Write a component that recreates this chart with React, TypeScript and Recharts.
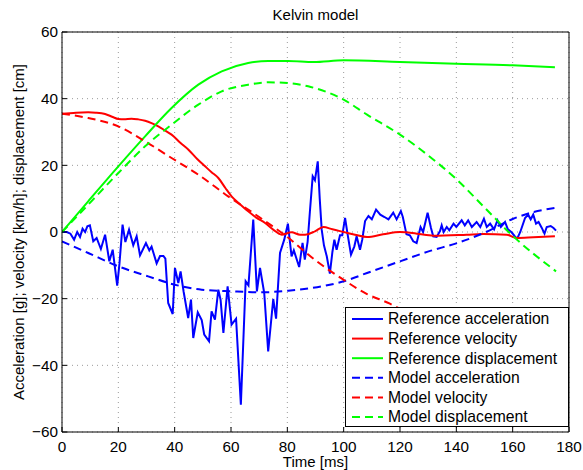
import { LineChart, Line, XAxis, YAxis, CartesianGrid, Legend } from 'recharts'

const FONT = '"Liberation Sans", Arial, Helvetica, sans-serif'

const xTicks = [0, 20, 40, 60, 80, 100, 120, 140, 160, 180]
const yTicks = [-60, -40, -20, 0, 20, 40, 60]

// [time ms, value] pairs
const refAcceleration: [number, number][] = [
  [0, 0], [1.7, 0], [3, -0.5], [4.3, -2.3], [5.4, 0], [6.4, -1.5], [7.3, 1], [8.2, 0], [9, 1.7], [9.9, 2],
  [11.1, -2.8], [12.3, -1.8], [13.8, -5.1], [15.3, -0.8], [16.8, -8.8], [18, -5.3], [19.6, -16.1], [20.4, -9.5],
  [21.5, 2.2], [22.5, -3], [23.8, 0.7], [25.3, -4], [26.5, -1.3], [27.7, -7], [29.8, -3.3], [31, -5.5], [31.8, -4.4],
  [33.6, -9.4], [34.8, -7.2], [36, -7.2], [36.7, -8], [37.7, -21.3], [39.3, -24.6], [40.1, -10.8], [41.3, -15.3],
  [42.1, -11.8], [43.2, -18], [44.8, -25.8], [45.8, -20.3], [46.6, -31.8], [48.2, -24.1], [49.6, -26.4], [50.5, -30.8],
  [52.2, -32.8], [53.1, -23.8], [54.3, -26.3], [55.5, -17.3], [56.3, -20.3], [57.3, -30.3], [58.8, -16.3], [60.2, -27.8],
  [61.8, -26], [63.5, -51.8], [65.2, -14.8], [66.2, -16], [67.9, 3.7], [69.2, -17.8], [70.3, -10.8], [71.8, -18.3],
  [73.2, -35.8], [75, -20.1], [76, -26], [77.4, -6.3], [78.9, -2.3], [80.2, 2.5], [81.5, -7.3], [82.3, -5.5],
  [84.2, -10.5], [85.4, -3.3], [86.2, -8.3], [87.2, -3], [88, 6], [89, 16.7], [89.8, 15.5], [90.8, 21.2], [91.5, 10],
  [92.2, 0.7], [93, -4], [94, -7.3], [95.1, -12.5], [96, -6], [96.7, -2.3], [97.5, -5.3], [98.7, -1], [99.5, -1],
  [100.5, 4.2], [101.4, -0.7], [102.6, -6.8], [103.8, -4.3], [104.6, -1.3], [105.8, -5.3], [106.6, -2.3], [107.6, 3.3],
  [108.8, 4.8], [110, 3.8], [111.5, 6.7], [113, 5.2], [114.5, 4.5], [115.9, 3.8], [117.6, 5.8], [118.8, 3.8],
  [120.3, 6.3], [121, 4.5], [122.3, -0.7], [123.5, -1], [124.7, -2.8], [125.9, -3.3], [127.3, 1.5], [128.2, 0],
  [129.8, 5.8], [131, 1.2], [131.8, -1.3], [133, -1.5], [134.2, 0.3], [134.8, 2], [135.5, 0], [136.6, 1.5],
  [137.5, 0.5], [139, 2.5], [140, 1.5], [141.9, 3.5], [143, 2], [144.2, 3.5], [145.5, 1.5], [147.2, 3], [148.5, 1.5],
  [149.8, 4], [150.8, 1.5], [152, 2.5], [153.4, 0.8], [154.6, 3.5], [155.8, 1.5], [157.3, 3], [158.3, 0.8],
  [159.6, -0.1], [160.8, -1.3], [161.6, -2], [162.7, 0], [164.4, 4.2], [165.5, 5.2], [166.4, 3.8], [167.3, 5.2],
  [168.3, 2.5], [169.2, 3], [170.3, 1.3], [171.3, -0.5], [172.1, 1.5], [173.5, 1.8], [174.5, 1.2], [175.4, 0.4],
]

const refVelocity: [number, number][] = [
  [0, 35.5], [5, 35.8], [9.3, 35.9], [12, 35.8], [15.3, 35.4], [18, 34.5], [20, 33.9], [22, 33.8], [24.7, 34],
  [27, 33.8], [29.5, 33.4], [32, 32.6], [34.2, 31.7], [36.5, 30.5], [38.9, 29.2], [42, 26.8], [44.9, 24.7], [48, 21.9],
  [50.8, 19.7], [53, 18], [55.5, 16.2], [58, 13.2], [60.2, 10.7], [63, 8.5], [66.1, 6.2], [69, 4.3], [72.1, 2.7],
  [75, 0.7], [78, -0.8], [81.5, -0.1], [84.5, -0.8], [86.3, -0.8], [89.8, 0.2], [92.8, 1.5], [96, 0.8], [100, 0],
  [104, -0.8], [108.3, -1.5], [114, -0.7], [120, 0], [126, -0.5], [131.9, -1.1], [143.7, -0.8], [149.6, -0.6],
  [157.9, -0.8], [161.4, -1.8], [167.3, -1.6], [175, -1.3],
]

const refDisplacement: [number, number][] = [
  [0, 0], [9.3, 9.2], [20, 19.7], [29.5, 28.7], [38.9, 37.2], [48.4, 44.2], [56.7, 48.2], [66.1, 50.7], [73.2, 51.3],
  [80.3, 51.3], [89.3, 51], [100, 51.5], [120, 51], [140, 50.5], [160, 50], [175, 49.4],
]

const modelAcceleration: [number, number][] = [
  [0, -2.8], [9.3, -6.3], [20, -10.3], [30.6, -13.3], [40, -15.8], [49.6, -17.3], [60.2, -17.8], [70.9, -18.1],
  [80.3, -17.6], [88.6, -16.8], [100, -14.8], [108.3, -12.3], [120, -8.8], [131, -5.6], [140, -3.4], [150, -0.2],
  [160, 3.9], [167, 5.9], [175, 7.2],
]

const modelVelocity: [number, number][] = [
  [0, 35.5], [9.3, 34.2], [20, 31.7], [29.5, 27.2], [38.9, 22.2], [48.4, 17.2], [59, 10.7], [70, 4.5], [80, -1.5],
  [90, -8.5], [99.9, -14.3], [108, -18.5], [116.4, -21.5], [120, -23], [130, -25], [140, -26], [150, -26.4],
  [160, -26], [175, -24.5],
]

const modelDisplacement: [number, number][] = [
  [0, 0], [9.3, 8.2], [20, 17.7], [29.5, 25.7], [38.9, 32.2], [48.4, 38.2], [56.7, 42.2], [66.1, 44.2], [73.2, 44.9],
  [80.3, 44.7], [87.4, 43.7], [100, 39.7], [108.3, 35.2], [120, 29.2], [131.9, 21.7], [140.2, 15.7], [149.6, 7.7],
  [160.2, -1.3], [175.4, -11.8],
]

const toPoints = (pairs: [number, number][]) => pairs.map(([t, v]) => ({ t, v }))

const series = [
  { name: 'Reference acceleration', color: '#0000ff', dash: undefined, data: refAcceleration, curve: 'linear' },
  { name: 'Reference velocity', color: '#ff0000', dash: undefined, data: refVelocity, curve: 'monotone' },
  { name: 'Reference displacement', color: '#00ff00', dash: undefined, data: refDisplacement, curve: 'monotone' },
  { name: 'Model acceleration', color: '#0000ff', dash: '8 5', data: modelAcceleration, curve: 'monotone' },
  { name: 'Model velocity', color: '#ff0000', dash: '8 5', data: modelVelocity, curve: 'monotone' },
  { name: 'Model displacement', color: '#00ff00', dash: '8 5', data: modelDisplacement, curve: 'monotone' },
]

const fmt = (v: number) => String(v).replace('-', '\u2212')

// legend drawn as a boxed panel, like the matlab one
const LegendBox = () => (
  <svg width={224} height={120} style={{ display: 'block' }}>
    <rect x={0.5} y={0.5} width={223} height={119} fill="#fff" stroke="#000" />
    {series.map((s, i) => {
      const cy = 12 + i * 19.6
      return (
        <g key={s.name}>
          <line x1={7} x2={38} y1={cy} y2={cy} stroke={s.color} strokeWidth={2} strokeDasharray={s.dash} />
          <text x={43} y={cy} dy="0.35em" fontSize={15.7} fill="#000">{s.name}</text>
        </g>
      )
    })}
  </svg>
)

const TitleLabel = (props: any) => {
  const vb = props.viewBox
  return (
    <text x={vb.x + vb.width / 2} y={vb.y + vb.height - 12} textAnchor="middle" fontSize={15} fill="#000">
      Kelvin model
    </text>
  )
}

const XLabel = (props: any) => {
  const vb = props.viewBox
  return (
    <text x={vb.x + vb.width / 2} y={vb.y + 35} textAnchor="middle" fontSize={15} fill="#000">
      Time [ms]
    </text>
  )
}

const YLabel = (props: any) => {
  const vb = props.viewBox
  const cx = 24
  const cy = vb.y + vb.height / 2
  return (
    <text x={cx} y={cy} textAnchor="middle" fontSize={15} fill="#000" transform={`rotate(-90 ${cx} ${cy})`}>
      Acceleration [g]; velocity [km/h]; displacement [cm]
    </text>
  )
}

export default function App() {
  return (
    <div style={{ position: 'absolute', left: 0, top: 0, width: 583, height: 470, background: '#fff', fontFamily: FONT }}>
      <LineChart width={583} height={470} margin={{ top: 31, right: 13, bottom: 0, left: 0 }}>
        <CartesianGrid stroke="#9a9a9a" strokeDasharray="1 4" />
        <XAxis
          type="number"
          dataKey="t"
          domain={[0, 180]}
          ticks={xTicks}
          allowDataOverflow
          height={38}
          tickSize={-5}
          tickMargin={14}
          axisLine={{ stroke: '#000' }}
          tickLine={{ stroke: '#000' }}
          tick={{ fill: '#000', fontSize: 15.3 }}
          label={XLabel}
        />
        <XAxis
          xAxisId="top"
          orientation="top"
          type="number"
          dataKey="t"
          domain={[0, 180]}
          ticks={xTicks}
          height={1}
          tickSize={-5}
          tick={false}
          axisLine={{ stroke: '#000' }}
          tickLine={{ stroke: '#000' }}
          label={TitleLabel}
        />
        <YAxis
          type="number"
          domain={[-60, 60]}
          ticks={yTicks}
          allowDataOverflow
          width={62}
          tickSize={-5}
          tickMargin={9}
          axisLine={{ stroke: '#000' }}
          tickLine={{ stroke: '#000' }}
          tick={{ fill: '#000', fontSize: 15.3 }}
          tickFormatter={fmt}
          label={YLabel}
        />
        <YAxis
          yAxisId="right"
          orientation="right"
          type="number"
          domain={[-60, 60]}
          ticks={yTicks}
          width={1}
          tickSize={-5}
          tick={false}
          axisLine={{ stroke: '#000' }}
          tickLine={{ stroke: '#000' }}
        />
        {series.map((s) => (
          <Line
            key={s.name}
            name={s.name}
            data={toPoints(s.data)}
            dataKey="v"
            type={s.curve as any}
            stroke={s.color}
            strokeWidth={2}
            strokeDasharray={s.dash}
            dot={false}
            activeDot={false}
            isAnimationActive={false}
          />
        ))}
        <Legend
          layout="horizontal"
          verticalAlign="middle"
          align="center"
          content={<LegendBox />}
          wrapperStyle={{ left: 345, top: 307, width: 224, height: 120, background: '#fff' }}
        />
      </LineChart>
    </div>
  )
}
